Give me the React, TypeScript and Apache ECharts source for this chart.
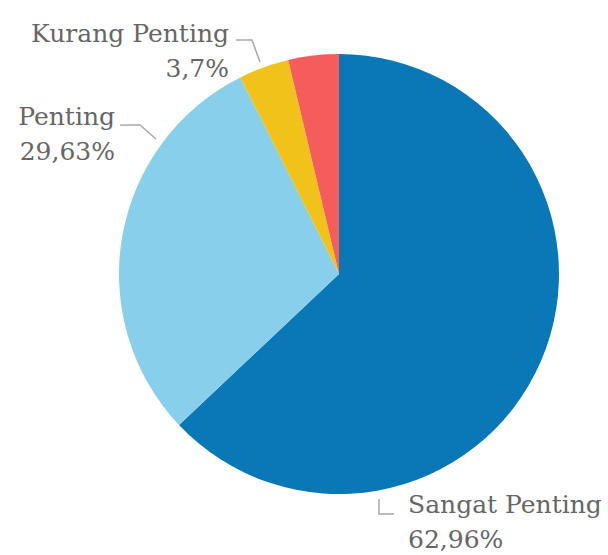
import React, { useEffect, useRef } from "react";
import * as echarts from "echarts";

const categories = ["Sangat Penting", "Penting", "Kurang Penting", "Tidak Penting"];
const values = [62.96, 29.63, 3.7, 3.71];
const colors = ["#0a78b7", "#87cfea", "#f1c219", "#f45d5b"];
const showLabel = [true, true, true, false];

// Label placement (layout only)
const CENTER: [number, number] = [339, 274];
const RADIUS = 220;
const labelPlacement: Record<string, any> = {
  "Kurang Penting": { x: 229, y: 51, align: "right", line: [[260, 62], [252, 40], [236, 40]] },
  Penting: { x: 115, y: 134, align: "right", line: [[156, 139], [140, 125], [120, 125]] },
  "Sangat Penting": { x: 408, y: 522, align: "left", line: [[379, 499], [379, 514], [394, 514]] },
};

export default function App() {
  const ref = useRef<HTMLDivElement>(null);
  useEffect(() => {
    document.body.style.margin = "0";
    const chart = echarts.init(ref.current!, undefined, { renderer: "svg" });
    chart.setOption({
      animation: false,
      backgroundColor: "#ffffff",
      series: [
        {
          type: "pie",
          center: CENTER,
          radius: RADIUS,
          startAngle: 90,
          clockwise: true,
          avoidLabelOverlap: false,
          data: categories.map((name, i) => ({
            name,
            value: values[i],
            itemStyle: { color: colors[i] },
            label: { show: showLabel[i] },
            labelLine: { show: showLabel[i] },
          })),
          label: {
            show: true,
            position: "outside",
            fontFamily: "DejaVu Serif",
            fontSize: 25,
            lineHeight: 35,
            color: "#666666",
            overflow: "none",
            width: 300,
            formatter: (p: any) => `${p.name}\n${String(p.value).replace(".", ",")}%`,
          },
          labelLine: {
            show: true,
            lineStyle: { color: "#a8a8a8", width: 1.5 },
          },
          labelLayout: (params: any) => {
            const name = categories[params.dataIndex];
            const pl = labelPlacement[name];
            if (!pl) return {};
            return {
              x: pl.x,
              y: pl.y,
              align: pl.align,
              verticalAlign: "middle",
              labelLinePoints: pl.line,
            };
          },
        },
      ],
    });
    return () => chart.dispose();
  }, []);
  return <div ref={ref} style={{ width: 608, height: 555 }} />;
}
